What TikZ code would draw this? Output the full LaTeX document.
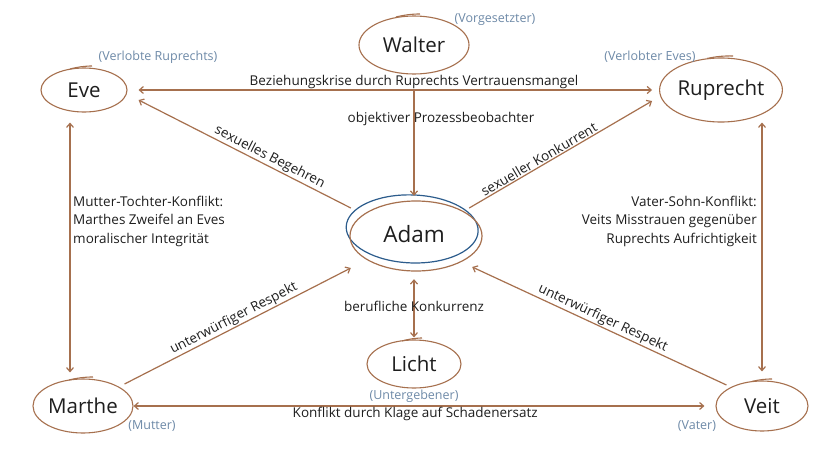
\documentclass[tikz,border=0pt]{standalone}
\usepackage{fontspec}
\setmainfont{Open Sans}
\usetikzlibrary{arrows.meta,shapes.geometric,calc}
\definecolor{brn}{RGB}{166,112,78}
\definecolor{adblue}{RGB}{44,92,140}
\definecolor{role}{RGB}{110,138,168}
\definecolor{txt}{RGB}{30,30,30}
\tikzset{
  person/.style={ellipse,draw=brn,line width=1.1pt,inner sep=0pt,font=\fontsize{20.5}{24}\selectfont,text=txt},
  rolelbl/.style={font=\fontsize{12.5}{14}\selectfont,text=role,inner sep=0pt},
  rel/.style={draw=brn,line width=1.2pt,-{Straight Barb[length=4pt,width=7pt]}},
  relboth/.style={draw=brn,line width=1.2pt,{Straight Barb[length=4pt,width=7pt]}-{Straight Barb[length=4pt,width=7pt]}},
  lbl/.style={font=\fontsize{13.5}{16}\selectfont,text=txt,inner sep=1pt},
  multilbl/.style={font=\fontsize{13.5}{18.5}\selectfont,text=txt,inner sep=0pt},
  overlap/.style={draw=brn,line width=1.1pt}
}
\begin{document}
\begin{tikzpicture}[x=1pt,y=-1pt]
\useasboundingbox[fill=white] (0,0) rectangle (828,466);
% persons
\node[person,minimum width=110,minimum height=58] (walter) at (414,45) {Walter};
\node[person,minimum width=86,minimum height=44] (eve) at (84,90) {Eve};
\node[person,minimum width=120,minimum height=64] (ruprecht) at (721,90) {Ruprecht};
\node[ellipse,inner sep=0pt,minimum width=134,minimum height=74,font=\fontsize{22.5}{26}\selectfont,text=txt] (adam) at (414,234) {Adam};
\node[person,minimum width=94,minimum height=48] (licht) at (414,364) {Licht};
\node[person,minimum width=100,minimum height=54] (marthe) at (83,406) {Marthe};
\node[person,minimum width=92,minimum height=50] (veit) at (762,406) {Veit};
% Adam double hand-drawn ellipse
\draw[adblue,line width=1.2pt,rotate around={-2:(adam.center)}] ($(adam.center)+(-2,-5)$) ellipse[x radius=66,y radius=34];
\draw[brn,line width=1.2pt] ($(adam.center)+(2,2)$) ellipse[x radius=66,y radius=35];
% overlap strokes (hand-drawn look)
\draw[overlap] ($(walter.north)+(-18,1.5)$) to[bend left=6] ($(walter.north)+(6,-1.5)$);
\draw[overlap] ($(eve.north)+(-14,1.5)$) to[bend left=6] ($(eve.north)+(8,-1.5)$);
\draw[overlap] ($(ruprecht.north)+(-14,1)$) to[bend left=6] ($(ruprecht.north)+(12,-1.5)$);
\draw[overlap] ($(licht.north)+(-12,1.5)$) to[bend left=6] ($(licht.north)+(8,-1.5)$);
\draw[overlap] ($(marthe.north)+(-14,1.5)$) to[bend left=6] ($(marthe.north)+(10,-1.5)$);
\draw[overlap] ($(veit.north)+(-10,1)$) to[bend left=6] ($(veit.north)+(10,-1.5)$);
% role labels
\node[rolelbl] (rwalter) at (495,20) {(Vorgesetzter)};
\node[rolelbl] (reve) at (158,57) {(Verlobte Ruprechts)};
\node[rolelbl] (rruprecht) at (650,57) {(Verlobter Eves)};
\node[rolelbl] (rlicht) at (414,396) {(Untergebener)};
\node[rolelbl] (rmarthe) at (152,426) {(Mutter)};
\node[rolelbl] (rveit) at (697,426) {(Vater)};
% connectors
\draw[relboth,shorten <=11pt,shorten >=7pt] (eve.east) -- (ruprecht.west)
  node[lbl,pos=0.539,above=0pt] {Beziehungskrise durch Ruprechts Vertrauensmangel};
\draw[rel,shorten <=16pt,shorten >=1pt] (walter.south) -- (adam.north)
  node[lbl,pos=0.36,xshift=27pt] {objektiver Prozessbeobachter};
\draw[rel] ($(adam.west)+(4,-26)$) -- ($(eve.east)+(11,10)$)
  node[lbl,pos=0.40,sloped,above=0pt] {sexuelles Begehren};
\draw[rel] ($(adam.east)+(-12,-26)$) -- ($(ruprecht.west)+(-7,11)$)
  node[lbl,pos=0.40,sloped,above=0pt] {sexueller Konkurrent};
\draw[relboth] ($(eve.south)+(-14,10)$) -- ($(marthe.north)+(-13,-6)$);
\node[multilbl,align=left,anchor=west] (lmt) at (73,221) {Mutter-Tochter-Konflikt:\\Marthes Zweifel an Eves\\moralischer Integrität};
\draw[relboth] ($(ruprecht.south)+(41,0)$) -- ($(veit.north)+(0,-9)$);
\node[multilbl,align=right,anchor=east] (lvs) at (757,221) {Vater-Sohn-Konflikt:\\Veits Misstrauen gegenüber\\Ruprechts Aufrichtigkeit};
\draw[rel] ($(marthe.east)+(-9,-22)$) -- ($(adam.west)+(4,34)$)
  node[lbl,pos=0.5,sloped,above=0pt] {unterwürfiger Respekt};
\draw[rel] ($(veit.west)+(11,-21)$) -- ($(adam.east)+(-9,33)$)
  node[lbl,pos=0.5,sloped,above=0pt] {unterwürfiger Respekt};
\draw[relboth,shorten <=8pt,shorten >=2pt] (adam.south) -- (licht.north)
  node[lbl,pos=0.52] {berufliche Konkurrenz};
\draw[relboth,shorten >=11pt] (marthe.east) -- (veit.west)
  node[lbl,pos=0.484,below=0pt] {Konflikt durch Klage auf Schadenersatz};
\end{tikzpicture}
\end{document}
